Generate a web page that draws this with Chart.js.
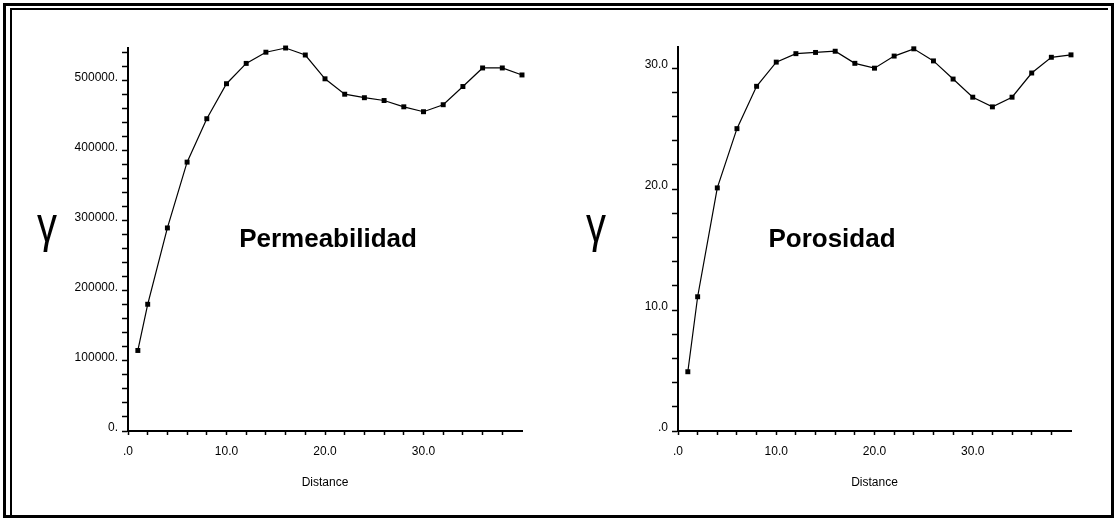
<!DOCTYPE html>
<html>
<head>
<meta charset="utf-8">
<title>Variogramas</title>
<script src="https://cdn.jsdelivr.net/npm/chart.js@4.4.1/dist/chart.umd.min.js"></script>
<style>
  html, body { margin: 0; padding: 0; background: #fff; }
  body { position: relative; width: 1114px; height: 523px; overflow: hidden; font-family: "Liberation Sans", Arial, sans-serif; }
  .panel { position: absolute; top: 0; height: 523px; }
  #frame-outer { position: absolute; left: 3px; top: 3px; width: 1111px; height: 515px; border: 3px solid #000; box-sizing: border-box; }
  #frame-inner { position: absolute; left: 10px; top: 8px; width: 1098px; height: 507px; border-top: 2px solid #000; border-left: 2px solid #000; box-sizing: border-box; }
  .gamma { position: absolute; font-size: 50px; line-height: 1; transform: translateX(-50%) scaleX(0.8); color: #000; }
  .title { position: absolute; font-size: 26px; font-weight: bold; line-height: 1; transform: translateX(-50%); color: #000; white-space: nowrap; }
</style>
</head>
<body>
<div id="frame-outer"></div>
<div id="frame-inner"></div>
<div class="panel" style="left:0;width:556px;"><canvas id="chart-perm"></canvas></div>
<div class="panel" style="left:556px;width:558px;"><canvas id="chart-poro"></canvas></div>
<div class="gamma" style="left:47px;top:200px;">γ</div>
<div class="gamma" style="left:596px;top:200px;">γ</div>
<div class="title" style="left:328px;top:225px;">Permeabilidad</div>
<div class="title" style="left:832px;top:225px;">Porosidad</div>
<script>
// distancia de cada punto del variograma
const distance = [1, 2, 4, 6, 8, 10, 12, 14, 16, 18, 20, 22, 24, 26, 28, 30, 32, 34, 36, 38, 40];
const permeabilidad = [115000, 181000, 290000, 384000, 446000, 496000, 525000, 541000, 547000, 537000,
  503000, 481000, 476000, 472000, 463000, 456000, 466000, 492000, 518500, 518500, 508500];
const porosidad = [4.9, 11.1, 20.1, 25.0, 28.5, 30.5, 31.2, 31.3, 31.4, 30.4,
  30.0, 31.0, 31.6, 30.6, 29.1, 27.6, 26.8, 27.6, 29.6, 30.9, 31.1];

// etiquetas de los ejes
const xTickValues = [0, 10, 20, 30];
const xTickLabels = [".0", "10.0", "20.0", "30.0"];
const permTickValues = [0, 100000, 200000, 300000, 400000, 500000];
const permTickLabels = ["0.", "100000.", "200000.", "300000.", "400000.", "500000."];
const poroTickValues = [0, 10, 20, 30];
const poroTickLabels = [".0", "10.0", "20.0", "30.0"];
const xMax = 40;
const xStep = 2;
const xTitle = "Distance";

Chart.defaults.font.family = "'Liberation Sans', Arial, sans-serif";
Chart.defaults.color = "#000";

function pickLabel(values, labels) {
  return function (value) {
    const i = values.findIndex((v) => Math.abs(v - value) < 1e-6);
    return i >= 0 ? labels[i] : "";
  };
}

// marcas pequeñas cada "step", sin pasar del maximo
function stepTicks(step, max) {
  const ticks = [];
  for (let i = 0; i * step <= max + 1e-9; i++) {
    ticks.push({ value: i * step });
  }
  return ticks;
}

function buildChart(canvasId, values, yMax, yStep, yTickValues, yTickLabels, yWidth, padRight, padTop) {
  const ctx = document.getElementById(canvasId).getContext("2d");
  return new Chart(ctx, {
    type: "line",
    data: {
      labels: distance,
      datasets: [
        {
          data: distance.map((d, i) => ({ x: d, y: values[i] })),
          borderColor: "#000",
          backgroundColor: "#000",
          borderWidth: 1.2,
          pointStyle: "rect",
          pointRadius: 3.5,
          pointBorderWidth: 0,
          tension: 0,
          clip: false,
        },
      ],
    },
    options: {
      responsive: true,
      maintainAspectRatio: false,
      animation: false,
      events: [],
      layout: { padding: { left: 0, right: padRight, top: padTop, bottom: 0 } },
      plugins: { legend: { display: false }, tooltip: { enabled: false } },
      scales: {
        x: {
          type: "linear",
          min: 0,
          max: xMax,
          border: { display: true, color: "#000", width: 2 },
          grid: { drawOnChartArea: false, drawTicks: true, tickLength: 4, tickColor: "#000", tickWidth: 1.5 },
          ticks: {
            autoSkip: false,
            maxRotation: 0,
            padding: 9,
            font: { size: 12 },
            callback: pickLabel(xTickValues, xTickLabels),
          },
          title: { display: true, text: xTitle, font: { size: 12 }, padding: { top: 0, bottom: 33 } },
          afterBuildTicks: (scale) => {
            scale.ticks = stepTicks(xStep, xMax - xStep);
          },
          afterFit: (scale) => {
            scale.height = 92;
          },
        },
        y: {
          type: "linear",
          min: 0,
          max: yMax,
          border: { display: true, color: "#000", width: 2 },
          grid: { drawOnChartArea: false, drawTicks: true, tickLength: 6, tickColor: "#000", tickWidth: 1.5 },
          ticks: {
            autoSkip: false,
            padding: 4,
            labelOffset: -3,
            font: { size: 12 },
            callback: pickLabel(yTickValues, yTickLabels),
          },
          afterBuildTicks: (scale) => {
            scale.ticks = stepTicks(yStep, yMax);
          },
          afterFit: (scale) => {
            scale.width = yWidth;
          },
        },
      },
    },
  });
}

buildChart("chart-perm", permeabilidad, 547000, 20000, permTickValues, permTickLabels, 128, 34, 48);
buildChart("chart-poro", porosidad, 31.75, 2, poroTickValues, poroTickLabels, 122, 43, 47);
</script>
</body>
</html>
